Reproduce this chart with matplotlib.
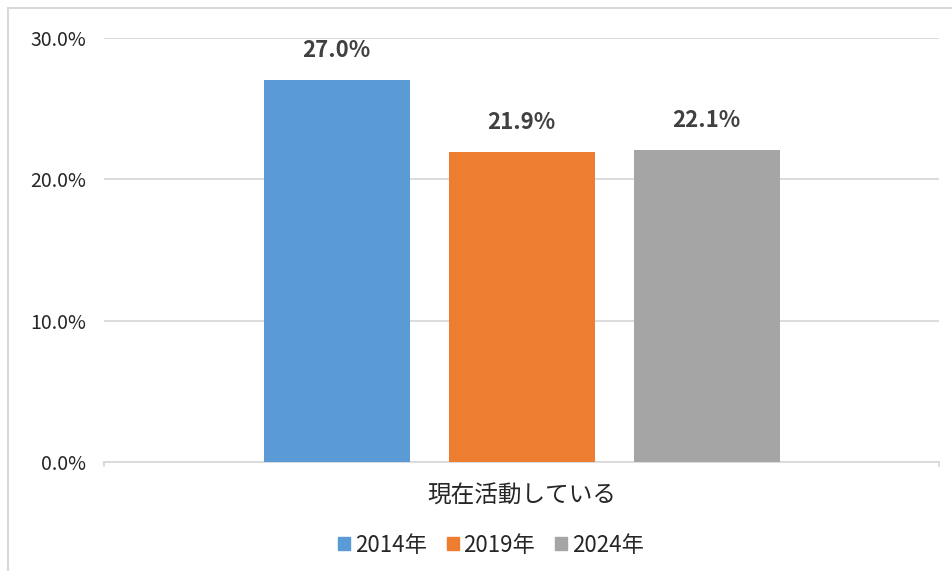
import matplotlib.pyplot as plt
from matplotlib.lines import Line2D
from matplotlib.patches import Patch

plt.rcParams['font.family'] = ['Noto Sans CJK JP', 'DejaVu Sans']

# データ
category = '現在活動している'
years = ['2014年', '2019年', '2024年']
values = [27.0, 21.9, 22.1]
colors = ['#5b9bd5', '#ed7d31', '#a5a5a5']
yticks = [0, 10, 20, 30]

fig = plt.figure(figsize=(9.53, 5.71), dpi=100)
ax = fig.add_axes([104 / 953, 1 - 462 / 571, 835 / 953, 424 / 571])

width = 146 / 835
step = 185 / 835
for i, (yr, v, c) in enumerate(zip(years, values, colors)):
    x = (i - 1) * step
    ax.bar(x, v, width=width, color=c, label=yr, zorder=3)
    ax.annotate(f'{v:.1f}%', (x, v), xytext=(0, 13), textcoords='offset points',
                ha='center', va='bottom', fontsize=16, fontweight='bold',
                color='#404040')

ax.set_xlim(-0.5, 0.5)
ax.set_ylim(0, 30)
ax.set_yticks(yticks)
ax.set_yticklabels([f'{t:.1f}%' for t in yticks], fontsize=14, color='#262626')
ax.set_xticks([0])
ax.set_xticklabels([category], fontsize=17, color='#262626')
ax.tick_params(axis='y', length=0, pad=13)
ax.tick_params(axis='x', length=0, pad=16)
ax.grid(axis='y', color='#d9d9d9', linewidth=1.3, zorder=0)
for s in ['top', 'right', 'left']:
    ax.spines[s].set_visible(False)
ax.spines['bottom'].set_color('#d9d9d9')
ax.spines['bottom'].set_linewidth(1.3)
# category boundary ticks
for xb in (-0.5, 0.5):
    ax.plot([xb, xb], [0, -0.25], color='#d9d9d9', lw=1.3, clip_on=False)

handles = [Patch(color=c) for c in colors]
fig.legend(handles, years, loc='center', bbox_to_anchor=(491 / 953, 1 - 545 / 571),
           ncol=3, frameon=False, fontsize=16, handlelength=0.55, handleheight=0.55,
           handletextpad=0.2, columnspacing=0.9, labelcolor='#262626')

# outer chart border (cropped)
fig.add_artist(Line2D([8 / 953, 1], [1 - 8 / 571] * 2, color='#d9d9d9', lw=1.5))
fig.add_artist(Line2D([8 / 953] * 2, [0, 1 - 8 / 571], color='#d9d9d9', lw=1.5))

fig.savefig('out.png', dpi=100)
